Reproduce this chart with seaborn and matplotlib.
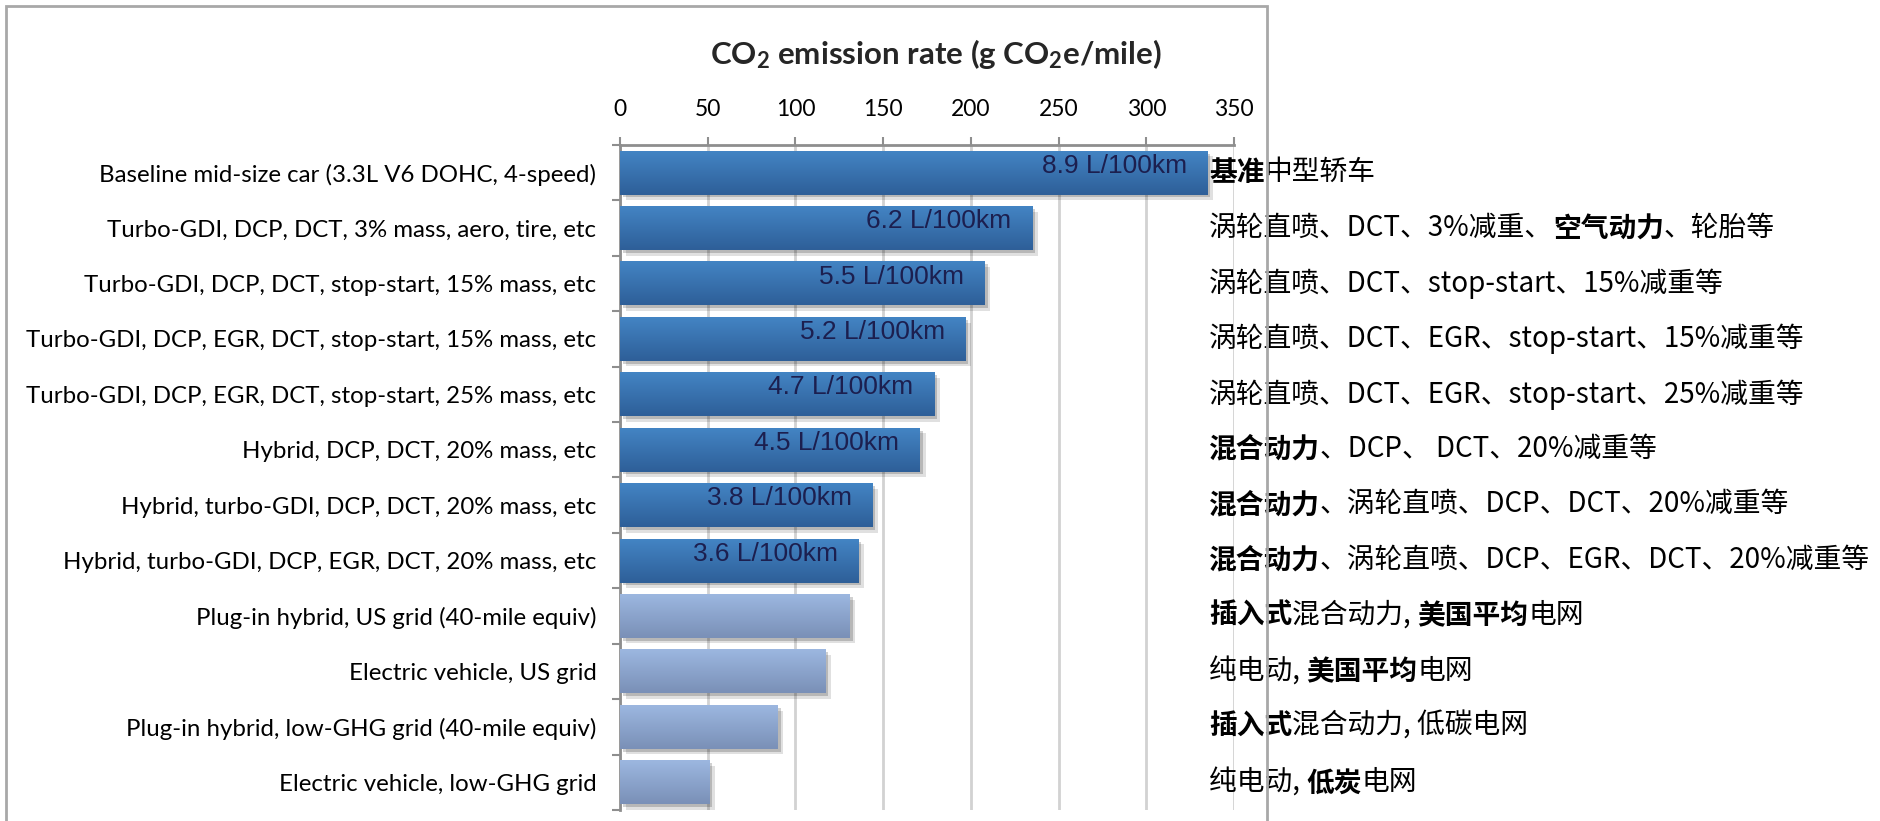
import numpy as np
import pandas as pd
import matplotlib
matplotlib.use("Agg")
import matplotlib.pyplot as plt
import matplotlib.patheffects as pe
from matplotlib.patches import Rectangle
from matplotlib.colors import LinearSegmentedColormap
import matplotlib.transforms as mtransforms
import seaborn as sns

# ---- data -------------------------------------------------------------
categories = [
    "Baseline mid-size car (3.3L V6 DOHC, 4-speed)",
    "Turbo-GDI, DCP, DCT, 3% mass, aero, tire, etc",
    "Turbo-GDI, DCP, DCT, stop-start, 15% mass, etc",
    "Turbo-GDI, DCP, EGR, DCT, stop-start, 15% mass, etc",
    "Turbo-GDI, DCP, EGR, DCT, stop-start, 25% mass, etc",
    "Hybrid, DCP, DCT, 20% mass, etc",
    "Hybrid, turbo-GDI, DCP, DCT, 20% mass, etc",
    "Hybrid, turbo-GDI, DCP, EGR, DCT, 20% mass, etc",
    "Plug-in hybrid, US grid (40-mile equiv)",
    "Electric vehicle, US grid",
    "Plug-in hybrid, low-GHG grid (40-mile equiv)",
    "Electric vehicle, low-GHG grid",
]
co2_g_per_mile = [335, 235, 208, 197, 179, 171, 144, 136, 131, 117, 90, 51]
fuel_labels = ["8.9 L/100km", "6.2 L/100km", "5.5 L/100km", "5.2 L/100km",
               "4.7 L/100km", "4.5 L/100km", "3.8 L/100km", "3.6 L/100km"]
vehicle_group = ["combustion"] * 8 + ["plug-in"] * 4
# Chinese descriptions; **...** marks the bold runs
chinese_labels = [
    "**基准**中型轿车",
    "涡轮直喷、DCT、3%减重、**空气动力**、轮胎等",
    "涡轮直喷、DCT、stop-start、15%减重等",
    "涡轮直喷、DCT、EGR、stop-start、15%减重等",
    "涡轮直喷、DCT、EGR、stop-start、25%减重等",
    "**混合动力**、DCP、 DCT、20%减重等",
    "**混合动力**、涡轮直喷、DCP、DCT、20%减重等",
    "**混合动力**、涡轮直喷、DCP、EGR、DCT、20%减重等",
    "**插入式**混合动力, **美国平均**电网",
    "纯电动, **美国平均**电网",
    "**插入式**混合动力, 低碳电网",
    "纯电动, **低炭**电网",
]
x_ticks = [0, 50, 100, 150, 200, 250, 300, 350]
title = "CO$_2$ emission rate (g CO$_2$e/mile)"

df = pd.DataFrame({"category": categories, "co2": co2_g_per_mile,
                   "group": vehicle_group})

# ---- style ------------------------------------------------------------
sns.set_theme(style="white")
plt.rcParams["font.family"] = ["Lato", "DejaVu Sans"]
plt.rcParams["mathtext.default"] = "regular"

W, H, DPI = 1880, 821, 100
fig = plt.figure(figsize=(W / DPI, H / DPI), dpi=DPI)
ax = fig.add_axes([620 / W, 1 - 810 / H, (1234 - 620) / W, (810 - 145) / H])

group_colors = {"combustion": "#3a76b6", "plug-in": "#8aa4cc"}
gradients = {
    "combustion": ("#4384c4", "#2e5f98"),
    "plug-in": ("#9cb7e0", "#7a90b7"),
}

sns.barplot(data=df, x="co2", y="category", hue="group", palette=group_colors,
            orient="h", width=0.79, dodge=False, legend=False, ax=ax,
            edgecolor="none", linewidth=0, zorder=3)

ax.set_xlim(0, 350)
ylim = ax.get_ylim()

# vertical shading on each bar, plus a soft drop shadow
bars = [p for p in ax.patches if p.get_width() > 0]
bars.sort(key=lambda p: p.get_y())
for p, grp in zip(bars, vehicle_group):
    p.set_path_effects([
        pe.SimplePatchShadow(offset=(4, -4), shadow_rgbFace="#000000", alpha=0.12),
        pe.SimplePatchShadow(offset=(2, -2), shadow_rgbFace="#000000", alpha=0.18),
        pe.Normal(),
    ])
    cmap = LinearSegmentedColormap.from_list("shade", gradients[grp])
    x0, y0, w, h = p.get_x(), p.get_y(), p.get_width(), p.get_height()
    grad = np.linspace(0, 1, 64).reshape(-1, 1)
    ax.imshow(grad, cmap=cmap, aspect="auto", origin="upper",
              extent=(x0, x0 + w, y0 + h, y0), zorder=3.5,
              interpolation="bilinear")
ax.set_xlim(0, 350)
ax.set_ylim(ylim)

# fuel-economy labels inside the combustion bars
for i, lab in enumerate(fuel_labels):
    ax.annotate(lab, xy=(co2_g_per_mile[i], i), xytext=(-15, 5),
                textcoords="offset points", ha="right", va="center",
                fontsize=19, color="#1c1f4f", family=["Liberation Sans"],
                zorder=5)

# axes furniture
ax.set_xlabel("")
ax.set_ylabel("")
ax.xaxis.tick_top()
ax.set_xticks(x_ticks)
ax.set_xticklabels([str(t) for t in x_ticks])
ax.set_axisbelow(True)
ax.grid(axis="x", color="#d2d2d2", linewidth=2)
ax.grid(axis="y", visible=False)
for side in ("right", "bottom"):
    ax.spines[side].set_visible(False)
for side in ("left", "top"):
    ax.spines[side].set_color("#8e8e8e")
    ax.spines[side].set_linewidth(2)
ax.tick_params(axis="x", which="major", top=True, length=6, width=1.5,
               color="#8e8e8e", labelsize=16.5, pad=12, labelcolor="black")
ax.set_yticks(np.arange(-0.5, len(categories), 1), minor=True)
ax.tick_params(axis="y", which="major", length=0, labelsize=17.3, pad=17,
               labelcolor="black")
ax.tick_params(axis="y", which="minor", left=True, length=6, width=1.5,
               color="#8e8e8e")

# Chinese descriptions to the right, with bold runs
xform = mtransforms.blended_transform_factory(ax.transAxes, ax.transData)
cjk = ["Noto Sans CJK SC", "DejaVu Sans"]
for i, lab in enumerate(chinese_labels):
    parts = lab.split("**")
    prev = None
    for k, seg in enumerate(parts):
        if not seg:
            continue
        weight = "bold" if k % 2 == 1 else "normal"
        if prev is None:
            prev = ax.text((1209 - 620) / (1234 - 620), i, seg, transform=xform,
                           ha="left", va="center", fontsize=20,
                           fontweight=weight, family=cjk, color="black",
                           clip_on=False, zorder=6)
        else:
            prev = ax.annotate(seg, xy=(1, 0), xycoords=prev, ha="left",
                               va="bottom", fontsize=20, fontweight=weight,
                               family=cjk, color="black", zorder=6,
                               annotation_clip=False)

# title
fig.text(936 / W, 1 - 54 / H, title, ha="center", va="center",
         fontsize=22.5, fontweight="bold")

# chart-area frame
fig.add_artist(Rectangle((6 / W, -0.2), (1267 - 6) / W, 1.2 - 6 / H,
                         transform=fig.transFigure, fill=False,
                         edgecolor="#a8a8a8", linewidth=2))

fig.savefig("out.png", dpi=DPI, facecolor="white")
